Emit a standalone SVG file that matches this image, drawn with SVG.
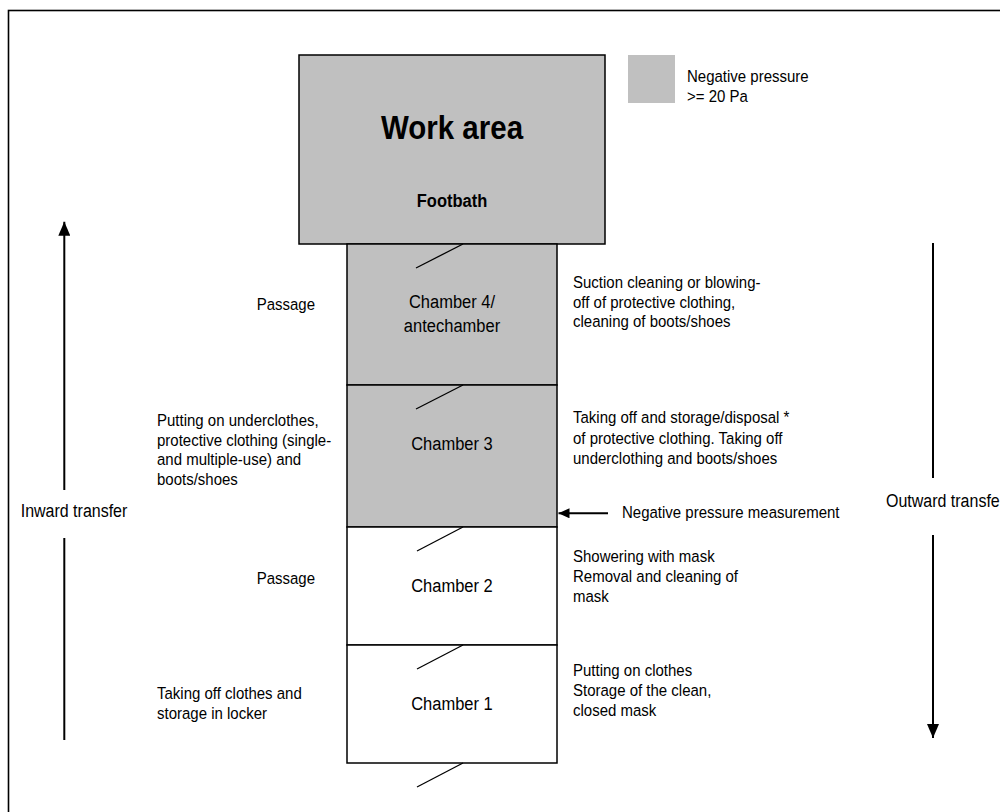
<svg xmlns="http://www.w3.org/2000/svg" width="1000" height="812" viewBox="0 0 1000 812">
<style>
.t{font-family:"Liberation Sans",Arial,Helvetica,sans-serif;font-size:15px;fill:#000}
.lbl{font-size:16.5px;text-anchor:middle}
.big{font-size:29.5px;font-weight:bold;text-anchor:middle}
.fb{font-size:16.5px;font-weight:bold;text-anchor:middle}
.tr{font-size:16px}
.room{fill:#C0C0C0;stroke:#000;stroke-width:1.5}
.clean{fill:#FFFFFF;stroke:#000;stroke-width:1.5}
.door{stroke:#000;stroke-width:1.3;fill:none}
.arr{stroke:#000;stroke-width:2;fill:none}
</style>
<defs>
<marker id="ah" markerUnits="userSpaceOnUse" markerWidth="14" markerHeight="12" refX="14" refY="6" orient="auto">
<path d="M0,0 L14,6 L0,12 z" fill="#000"/>
</marker>
<marker id="ahs" markerUnits="userSpaceOnUse" markerWidth="11" markerHeight="10" refX="11" refY="5" orient="auto">
<path d="M0,0 L11,5 L0,10 z" fill="#000"/>
</marker>
</defs>
<rect x="0" y="0" width="1000" height="812" fill="#FFFFFF"/>
<rect id="frame" x="8.5" y="10.5" width="1100" height="900" fill="none" stroke="#000" stroke-width="1.6"/>

<g id="legend">
<rect x="628" y="55" width="47" height="48" fill="#C0C0C0"/>
<g transform="translate(687,81.7) scale(1,1.14)"><text class="t" x="0" y="0"><tspan x="0" dy="0">Negative pressure</tspan><tspan x="0" dy="17.5">&gt;= 20 Pa</tspan></text></g>
</g>

<g id="work-area">
<rect class="room" x="299" y="55" width="306" height="189" stroke-width="2"/>
<g transform="translate(452,139.3) scale(1,1.14)"><text class="t big" x="0" y="0">Work area</text></g>
<g transform="translate(452,206.7) scale(1,1.14)"><text class="t fb" x="0" y="0">Footbath</text></g>
</g>

<g id="chamber4">
<rect class="room" x="347" y="244" width="210" height="141"/>
<line class="door" x1="416" y1="268" x2="463" y2="244"/>
<g transform="translate(452,308.3) scale(1,1.14)"><text class="t lbl" x="0" y="0"><tspan x="0" dy="0">Chamber 4/</tspan><tspan x="0" dy="20.5">antechamber</tspan></text></g>
</g>

<g id="chamber3">
<rect class="room" x="347" y="385" width="210" height="142"/>
<line class="door" x1="416" y1="409" x2="463" y2="385"/>
<g transform="translate(452,450) scale(1,1.14)"><text class="t lbl" x="0" y="0">Chamber 3</text></g>
</g>

<g id="chamber2">
<rect class="clean" x="347" y="527" width="210" height="118"/>
<line class="door" x1="417" y1="551" x2="463" y2="527"/>
<g transform="translate(452,591.7) scale(1,1.14)"><text class="t lbl" x="0" y="0">Chamber 2</text></g>
</g>

<g id="chamber1">
<rect class="clean" x="347" y="645" width="210" height="118"/>
<line class="door" x1="417" y1="669" x2="463" y2="645"/>
<g transform="translate(452,710) scale(1,1.14)"><text class="t lbl" x="0" y="0">Chamber 1</text></g>
</g>

<g id="entrance">
<line class="door" x1="417" y1="787" x2="463" y2="763"/>
</g>

<g id="left-notes">
<g transform="translate(256.7,310) scale(1,1.14)"><text class="t" x="0" y="0">Passage</text></g>
<g transform="translate(157,426) scale(1,1.14)"><text class="t" x="0" y="0"><tspan x="0" dy="0">Putting on underclothes,</tspan><tspan x="0" dy="17.3">protective clothing (single-</tspan><tspan x="0" dy="17.3">and multiple-use) and</tspan><tspan x="0" dy="17.3">boots/shoes</tspan></text></g>
<g transform="translate(256.7,584.3) scale(1,1.14)"><text class="t" x="0" y="0">Passage</text></g>
<g transform="translate(157,699.3) scale(1,1.14)"><text class="t" x="0" y="0"><tspan x="0" dy="0">Taking off clothes and</tspan><tspan x="0" dy="17.5">storage in locker</tspan></text></g>
<g transform="translate(20.7,517.3) scale(1,1.14)"><text class="t tr" x="0" y="0">Inward transfer</text></g>
</g>

<g id="right-notes">
<g transform="translate(573,288.3) scale(1,1.14)"><text class="t" x="0" y="0"><tspan x="0" dy="0">Suction cleaning or blowing-</tspan><tspan x="0" dy="17">off of protective clothing,</tspan><tspan x="0" dy="17">cleaning of boots/shoes</tspan></text></g>
<g transform="translate(573,423.3) scale(1,1.14)"><text class="t" x="0" y="0"><tspan x="0" dy="0">Taking off and storage/disposal *</tspan><tspan x="0" dy="18">of protective clothing. Taking off</tspan><tspan x="0" dy="18">underclothing and boots/shoes</tspan></text></g>
<g transform="translate(622,518) scale(1,1.14)"><text class="t" x="0" y="0">Negative pressure measurement</text></g>
<g transform="translate(573,561.7) scale(1,1.14)"><text class="t" x="0" y="0"><tspan x="0" dy="0">Showering with mask</tspan><tspan x="0" dy="17.5">Removal and cleaning of</tspan><tspan x="0" dy="17.5">mask</tspan></text></g>
<g transform="translate(573,675.7) scale(1,1.14)"><text class="t" x="0" y="0"><tspan x="0" dy="0">Putting on clothes</tspan><tspan x="0" dy="17.8">Storage of the clean,</tspan><tspan x="0" dy="17.8">closed mask</tspan></text></g>
<g transform="translate(886,507) scale(1,1.14)"><text class="t tr" x="0" y="0">Outward transfer</text></g>
</g>

<g id="connectors">
<line class="arr" x1="64.3" y1="490" x2="64.3" y2="221.7" marker-end="url(#ah)"/>
<line class="arr" x1="64.3" y1="538" x2="64.3" y2="740"/>
<line class="arr" x1="933" y1="243" x2="933" y2="478"/>
<line class="arr" x1="933" y1="535" x2="933" y2="738" marker-end="url(#ah)"/>
<line class="arr" x1="608" y1="513.3" x2="558.5" y2="513.3" stroke-width="1.6" marker-end="url(#ahs)"/>
</g>
</svg>
